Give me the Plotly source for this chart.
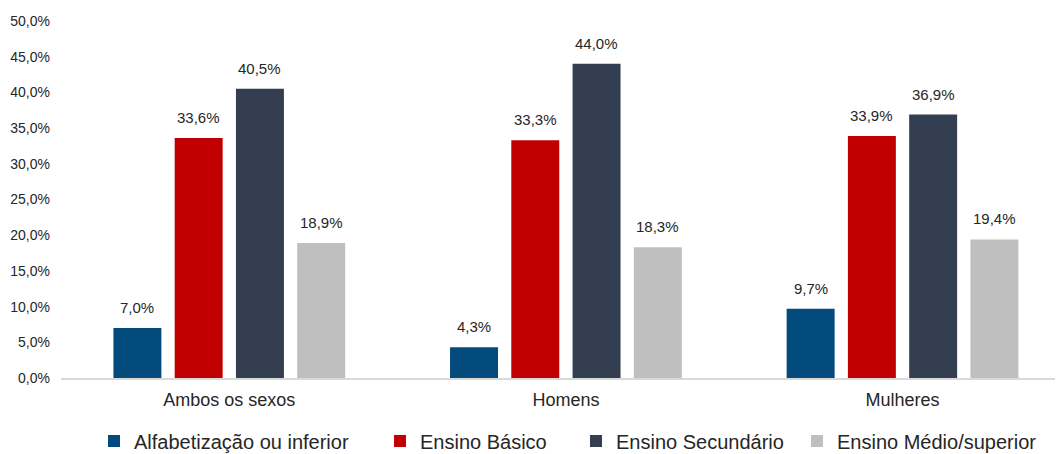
import plotly.graph_objects as go

categories = ["Ambos os sexos", "Homens", "Mulheres"]
series_names = ["Alfabetização ou inferior", "Ensino Básico", "Ensino Secundário", "Ensino Médio/superior"]
alfabetizacao = [7.0, 4.3, 9.7]
basico = [33.6, 33.3, 33.9]
secundario = [40.5, 44.0, 36.9]
medio_superior = [18.9, 18.3, 19.4]
series_values = [alfabetizacao, basico, secundario, medio_superior]
colors = ["#034A7D", "#C00000", "#333F50", "#BFBFBF"]
y_ticks = [0, 5, 10, 15, 20, 25, 30, 35, 40, 45, 50]
y_tick_labels = ["0,0%", "5,0%", "10,0%", "15,0%", "20,0%", "25,0%", "30,0%", "35,0%", "40,0%", "45,0%", "50,0%"]

W, H = 1057, 454
ML, MR, MT, MB = 61, 2, 21, 76
BARGAP = 0.272
BARGROUPGAP = 0.217
XRANGE = [-0.5, 2.453]
LEGEND_X_PX = [94, 380, 576, 797]
LEGEND_Y_PX = 441

plot_w = W - ML - MR
plot_h = H - MT - MB
legend_ids = ["legend", "legend2", "legend3", "legend4"]

fig = go.Figure()
for name, vals, col, lid in zip(series_names, series_values, colors, legend_ids):
    fig.add_trace(go.Bar(name=name, x=categories, y=vals, legend=lid,
                         marker=dict(color=col, line=dict(width=0))))

unit_px = plot_w / (XRANGE[1] - XRANGE[0])
slot_px = (1 - BARGAP) * unit_px / len(series_names)
annotations = []
for k, vals in enumerate(series_values):
    for cat, v in zip(categories, vals):
        annotations.append(dict(
            x=cat, y=v, xref="x", yref="y", text=f"{v:.1f}%".replace(".", ","),
            showarrow=False, yanchor="bottom", xanchor="center",
            xshift=(k - 1.5) * slot_px, yshift=10,
            font=dict(family="Liberation Sans, Arial", size=15, color="#262626"),
        ))

legend_layouts = {}
for lid, lx in zip(legend_ids, LEGEND_X_PX):
    legend_layouts[lid] = dict(
        orientation="h", x=(lx - ML) / plot_w, xanchor="left",
        y=(MT + plot_h - LEGEND_Y_PX) / plot_h, yanchor="middle",
        font=dict(size=20, color="#262626"), bgcolor="rgba(0,0,0,0)",
    )

fig.update_layout(
    width=W, height=H,
    margin=dict(l=ML, r=MR, t=MT, b=MB, autoexpand=False),
    paper_bgcolor="white", plot_bgcolor="white",
    barmode="group", bargap=BARGAP, bargroupgap=BARGROUPGAP,
    font=dict(family="Liberation Sans, Arial", color="#262626"),
    annotations=annotations,
    showlegend=True,
    **legend_layouts,
)
fig.update_xaxes(type="category", range=XRANGE, showgrid=False, showline=True, automargin=False,
                 linecolor="#D9D9D9", linewidth=1.5, ticks="", ticklabelstandoff=5,
                 tickfont=dict(size=18, color="#262626"))
fig.update_yaxes(range=[0, 50], tickvals=y_ticks, ticktext=y_tick_labels, showgrid=False, automargin=False,
                 zeroline=False, showline=False, ticks="", tickfont=dict(size=14, color="#262626"),
                 ticklabelstandoff=10)

fig.write_html("out.html", config={"displayModeBar": False},
               post_script="document.body.style.margin='0';document.body.style.overflow='hidden';")
